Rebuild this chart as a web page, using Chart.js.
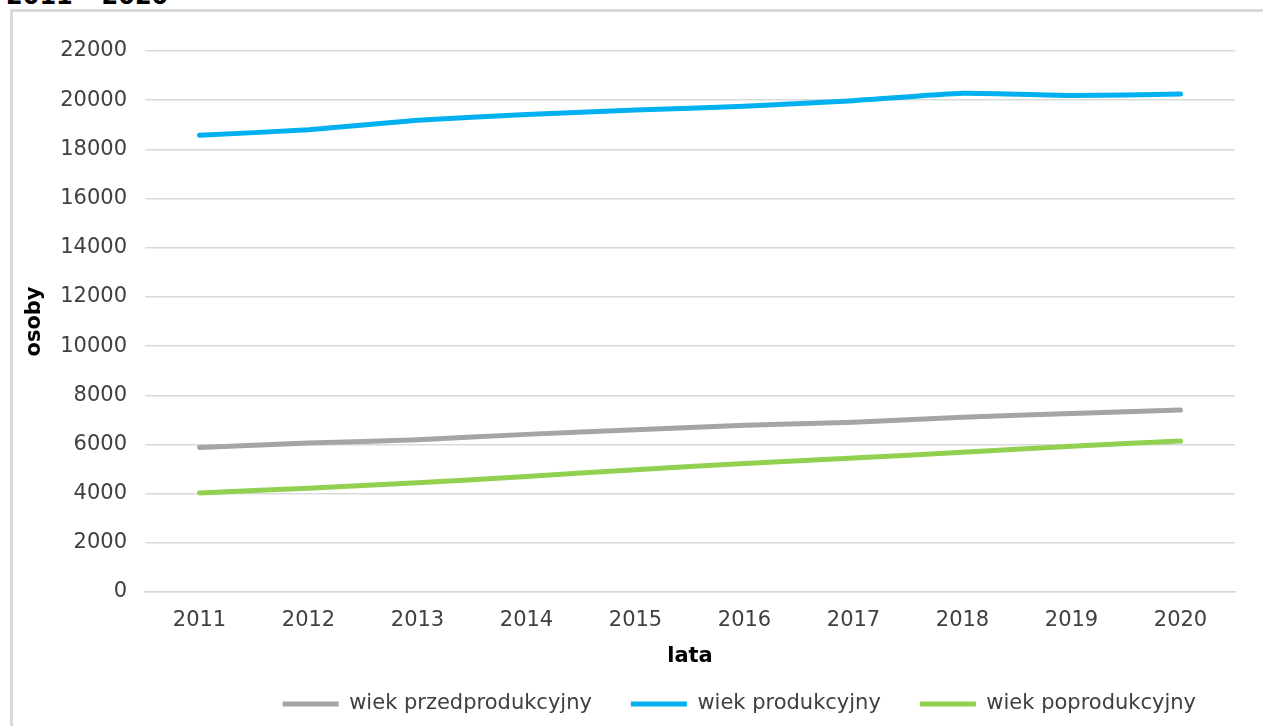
<!DOCTYPE html>
<html>
<head>
<meta charset="utf-8">
<script src="https://cdn.jsdelivr.net/npm/chart.js@4.4.1/dist/chart.umd.min.js"></script>
<style>
  html, body { margin: 0; padding: 0; background: #ffffff; overflow: hidden; }
  body { width: 1263px; height: 726px; position: relative; }
  #title { position: absolute; left: 6px; top: -16px; font-family: "DejaVu Sans", Verdana, sans-serif; font-weight: bold; font-size: 24px; line-height: 24px; color: #000; white-space: nowrap; }
  #frame { position: absolute; left: 10px; top: 9px; width: 1253px; height: 717px; border-left: 3px solid #d9d9d9; border-top: 3px solid #d9d9d9; box-sizing: border-box; }
  #wrap { position: absolute; left: 0; top: 0; width: 1263px; height: 726px; }
</style>
</head>
<body>
<div id="title">2011 – 2020</div>
<div id="frame"></div>
<div id="wrap"><canvas id="c" width="1263" height="726"></canvas></div>
<script>
const years = ["2011","2012","2013","2014","2015","2016","2017","2018","2019","2020"];
const przedprodukcyjny = [5880, 6060, 6190, 6410, 6600, 6780, 6900, 7110, 7260, 7400];
const produkcyjny = [18570, 18800, 19180, 19420, 19600, 19750, 19980, 20280, 20190, 20250];
const poprodukcyjny = [4030, 4220, 4440, 4700, 4975, 5230, 5450, 5680, 5930, 6140];
const seriesNames = ["wiek przedprodukcyjny", "wiek produkcyjny", "wiek poprodukcyjny"];
const yTitle = "osoby";
const xTitle = "lata";

const colors = ["#a5a5a5", "#00b0f0", "#92d050"];
const textColor = "#404040";
const fontFam = "'DejaVu Sans', Verdana, sans-serif";

function ds(label, data, color) {
  return {
    label: label, data: data,
    borderColor: color, backgroundColor: color,
    borderWidth: 5, pointRadius: 0, pointHoverRadius: 0,
    tension: 0.15, borderCapStyle: 'round', borderJoinStyle: 'round', fill: false
  };
}

new Chart(document.getElementById('c'), {
  type: 'line',
  data: {
    labels: years,
    datasets: [
      ds(seriesNames[0], przedprodukcyjny, colors[0]),
      ds(seriesNames[1], produkcyjny, colors[1]),
      ds(seriesNames[2], poprodukcyjny, colors[2])
    ]
  },
  options: {
    responsive: false,
    animation: false,
    layout: { padding: { left: 0, right: 28, top: 51, bottom: 1.5 } },
    plugins: {
      tooltip: { enabled: false },
      legend: {
        position: 'bottom',
        align: 'end',
        labels: {
          font: { family: fontFam, size: 21 },
          color: textColor,
          boxWidth: 56,
          boxHeight: 5,
          padding: 39,
          generateLabels: function(chart) {
            const items = Chart.defaults.plugins.legend.labels.generateLabels(chart);
            items.forEach(it => { it.lineWidth = 0; it.strokeStyle = 'rgba(0,0,0,0)'; });
            return items;
          }
        }
      }
    },
    scales: {
      x: {
        type: 'category',
        offset: true,
        grid: { display: false, drawTicks: false },
        border: { display: true, color: '#d9d9d9', width: 1.5 },
        ticks: { font: { family: fontFam, size: 21 }, color: textColor, padding: 16, maxRotation: 0, autoSkip: false },
        title: { display: true, text: xTitle, font: { family: fontFam, size: 21, weight: 'bold' }, color: '#000', padding: { top: 0, bottom: -15 } },
        afterFit: function(scale) { scale.height = 62.5; }
      },
      y: {
        min: 0, max: 22000,
        grid: { color: '#d9d9d9', lineWidth: 1.5, drawTicks: false },
        border: { display: false },
        ticks: { stepSize: 2000, font: { family: fontFam, size: 21 }, color: textColor, padding: 18,
                 callback: function(v) { return String(v); } },
        title: { display: true, text: yTitle, font: { family: fontFam, size: 21, weight: 'bold' }, color: '#000', padding: { top: 22, bottom: 0 } },
        afterFit: function(scale) { scale.width = 145; }
      }
    }
  }
});
</script>
</body>
</html>
